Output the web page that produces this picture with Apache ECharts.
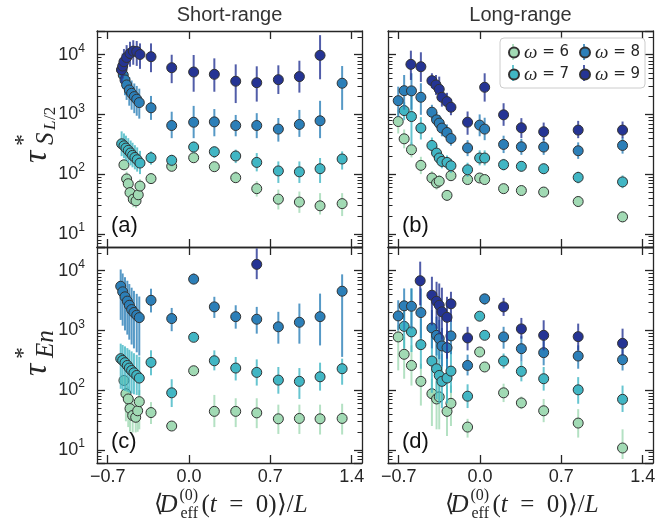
<!DOCTYPE html>
<html><head><meta charset="utf-8">
<script src="https://cdn.jsdelivr.net/npm/echarts@6/dist/echarts.min.js"></script>
<style>html,body{margin:0;padding:0;background:#fff}#c{width:669px;height:524px}</style>
</head><body><div id="c"></div>
<script>
// ---------- data ----------
const xTicks = [-0.7, 0.0, 0.7, 1.4];
const yMinorTicks = [7, 8, 9, 20, 30, 40, 50, 60, 70, 80, 90, 200, 300, 400, 500, 600, 700, 800, 900,
  2000, 3000, 4000, 5000, 6000, 7000, 8000, 9000, 20000];
const omegaNames = ['ω = 6', 'ω = 7', 'ω = 8', 'ω = 9'];
const colors = ['#a1dab4', '#41b6c4', '#2c7fb8', '#253494'];
const panelTitles = ['Short-range', 'Long-range'];
const panelTags = ['(a)', '(b)', '(c)', '(d)'];
// each point: [x, value, errLow, errHigh]
// (a) short-range, tau_S
const a6 = [[-0.560,143,120,170],[-0.537,83,60,110],[-0.523,69,50,92],[-0.508,49,36,66],[-0.480,38,28,52],[-0.456,35.6,27,48],[-0.437,45,34,60],[-0.422,63,48,82],
  [-0.327,84,74,96],[-0.149,135,122,150],[0.040,188,172,206],[0.218,133,120,148],[0.402,87,71,111],[0.583,57,42,76],[0.769,38,25.5,55],[0.950,34,22.4,51],[1.128,29.4,21,48],[1.318,32,19.8,48]];
const a7 = [[-0.580,322,200,520],[-0.560,298,185,480],[-0.543,273,170,440],[-0.523,250,155,400],[-0.503,226,140,365],[-0.486,206,130,335],[-0.466,190,120,305],[-0.446,174,110,280],[-0.422,153,100,245],
  [-0.327,188,144,240],[-0.149,170,135,211],[0.040,284,226,352],[0.218,237,186,290],[0.402,201,153,257],[0.583,157,111,225],[0.769,113,71,163],[0.950,109,71,163],[1.128,123,71,186],[1.318,179,119,240]];
const a8 = [[-0.580,5550,3300,8500],[-0.566,4580,2700,7200],[-0.551,3780,2100,6000],[-0.537,3120,1750,5000],[-0.514,2570,1400,4200],[-0.494,2260,1200,3700],[-0.471,1990,1050,3300],[-0.450,1800,950,3000],[-0.428,1580,850,2700],
  [-0.327,1290,810,2040],[-0.149,652,400,1110],[0.040,740,400,1390],[0.218,750,430,1230],[0.402,652,430,980],[0.583,652,400,1050],[0.769,568,350,870],[0.950,680,420,1190],[1.128,782,400,1690],[1.318,3330,1190,6470]];
const a9 = [[-0.580,5600,3400,9000],[-0.571,6470,4000,10500],[-0.560,7640,4600,12500],[-0.537,9000,5400,14500],[-0.508,10500,6300,16500],[-0.480,11500,6800,17500],[-0.450,11300,6500,17000],[-0.422,10100,5800,15500],
  [-0.327,9270,5100,15500],[-0.149,6060,3340,10000],[0.040,5140,2400,9900],[0.218,4700,2400,8700],[0.402,3600,1550,6900],[0.583,3400,1640,6400],[0.769,3820,2200,6650],[0.950,4300,2320,7940],[1.128,9770,3880,21300]];
// (b) long-range, tau_S
const b6 = [[-0.704,760,480,1200],[-0.653,390,270,560],[-0.590,256,190,340],[-0.509,140,100,195],[-0.414,86,65,112],[-0.374,71,55,92],[-0.351,76,60,96],[-0.284,44,36,54],[-0.250,94,80,110],
  [-0.107,81,70,94],[-0.003,86,76,97],[0.040,81,72,92],[0.203,57,48,68],[0.356,53,45,62],[0.548,50,43,58],[0.845,34.7,28,43],[1.227,19.2,15.5,24]];
const b7 = [[-0.653,1160,800,1600],[-0.590,921,310,2570],[-0.509,590,380,900],[-0.414,302,220,410],[-0.374,225,170,300],[-0.351,186,140,245],[-0.328,163,125,215],[-0.284,157,120,205],[-0.250,138,105,180],
  [-0.107,118,90,155],[-0.003,186,140,250],[0.040,186,140,250],[0.203,144,115,180],[0.356,135,110,165],[0.548,123,100,150],[0.845,88,70,110],[1.227,74,58,95]];
const b8 = [[-0.704,1700,920,2920],[-0.653,2500,1200,4580],[-0.590,2480,1200,4900],[-0.509,1940,984,3330],[-0.414,1090,811,1450],[-0.374,811,600,1100],[-0.351,715,520,980],[-0.328,590,430,800],[-0.284,498,370,680],[-0.250,395,300,520],
  [-0.107,274,200,370],[-0.003,662,430,1000],[0.040,568,370,880],[0.203,314,225,440],[0.356,287,210,390],[0.548,284,210,385],[0.845,246,180,340],[1.227,302,220,410]];
const b9 = [[-0.595,6900,3780,11700],[-0.509,6300,3500,11000],[-0.414,3680,2750,4890],[-0.379,3120,2120,4580],[-0.351,2640,1870,4300],[-0.328,1940,1350,3120],[-0.284,1640,1200,2300],[-0.250,1320,970,1800],
  [-0.107,741,456,1120],[0.040,2850,1640,4890],[0.203,984,644,1540],[0.356,597,402,866],[0.548,512,370,730],[0.845,546,400,780],[1.227,546,400,760]];
// (c) short-range, tau_En
const c6 = [[-0.560,145,125,165],[-0.543,87,30,125],[-0.523,71,24,115],[-0.508,49,20,95],[-0.485,37.5,19.5,75],[-0.459,35,19.5,65],[-0.442,45,20,75],[-0.428,64,22,100],
  [-0.327,42,27,63],[-0.149,25,22,28.5],[0.040,211,190,235],[0.218,44,24,83],[0.402,44,24,73],[0.583,41.5,23,73],[0.769,33,18.4,57],[0.950,33.5,18.4,57],[1.128,33,18,57],[1.318,33.5,18,59]];
const c7 = [[-0.588,336,105,600],[-0.571,314,100,570],[-0.551,288,97,540],[-0.531,259,94,505],[-0.514,234,91,475],[-0.494,213,88,445],[-0.474,195,85,415],[-0.450,176,83,390],[-0.428,159,81,363],
  [-0.327,291,177,464],[-0.149,90,52,152],[0.040,766,680,860],[0.218,310,214,463],[0.402,234,145,359],[0.583,198,119,327],[0.769,147,87,244],[0.950,140,71,234],[1.128,167,98,288],[1.318,228,123,336]];
const c8 = [[-0.588,5500,1500,10500],[-0.571,4440,1200,9000],[-0.551,3660,1000,7800],[-0.531,3100,850,6800],[-0.514,2640,700,6000],[-0.494,2240,580,5200],[-0.474,2000,500,4600],[-0.450,1800,430,4100],[-0.428,1640,380,3700],
  [-0.327,3200,2000,5000],[-0.149,1580,970,2380],[0.040,7230,6100,9000],[0.218,2480,1620,3660],[0.402,1700,1070,2640],[0.583,1540,883,2480],[0.769,1150,600,2050],[0.950,1370,600,2820],[1.128,1700,560,4140],[1.318,4540,360,8700]];
const c9 = [[0.583,12800,7230,23700]];
// (d) long-range, tau_En
const d6 = [[-0.704,778,214,1220],[-0.653,398,155,778],[-0.590,259,119,562],[-0.509,140,55,277],[-0.414,87,25,155],[-0.374,71,22,140],[-0.351,77,22,150],[-0.284,44,17,119],[-0.250,60,25,120],
  [-0.107,24,16,33],[-0.003,435,390,480],[0.040,244,220,270],[0.203,90,63,128],[0.356,61,48,78],[0.548,45,29,71],[0.845,28,16,48],[1.227,10.7,7,22]];
const d7 = [[-0.653,1170,494,3200],[-0.590,945,435,5050],[-0.509,577,228,1580],[-0.414,307,90,900],[-0.374,228,70,700],[-0.351,176,60,500],[-0.328,140,50,400],[-0.284,159,60,420],[-0.250,208,90,480],
  [-0.107,79,50,125],[-0.003,1730,1550,1930],[0.040,828,700,980],[0.203,307,230,410],[0.356,206,140,300],[0.548,155,98,244],[0.845,101,59,165],[1.227,70,43,119]];
const d8 = [[-0.704,1750,1000,3200],[-0.653,2580,1000,5050],[-0.590,2540,1050,5050],[-0.509,1990,728,5050],[-0.414,1100,500,2200],[-0.374,828,380,1700],[-0.351,728,330,1500],[-0.328,550,250,1100],[-0.284,514,230,1000],[-0.250,809,400,1500],
  [-0.107,259,176,392],[0.040,3380,2700,4100],[0.203,778,494,1150],[0.356,494,300,800],[0.548,424,260,700],[0.845,372,228,562],[1.227,323,213,494]];
const d9 = [[-0.515,6800,2640,14200],[-0.414,3890,1220,7930],[-0.374,3080,1070,6530],[-0.351,2640,883,6120],[-0.328,2050,700,5200],[-0.284,1660,336,3660],[-0.250,2790,1390,4440],
  [-0.107,748,463,1150],[0.203,2480,1750,3510],[0.356,1060,728,1620],[0.548,828,463,1480],[0.845,787,463,1300],[1.227,607,382,1070]];

const panels = [[a6, a7, a8, a9], [b6, b7, b8, b9], [c6, c7, c8, c9], [d6, d7, d8, d9]];

// ---------- layout / style ----------
const frame = '#262626';
const grids = [
  { left: 97, top: 31, width: 265, height: 216 },
  { left: 388, top: 31, width: 265, height: 216 },
  { left: 97, top: 247, width: 265, height: 216 },
  { left: 388, top: 247, width: 265, height: 216 }
];
const sans = 'Liberation Sans, Arial, sans-serif';
const serif = 'Liberation Serif, Times New Roman, serif';

function fmtX(v) {
  const s = Math.abs(v).toFixed(1);
  return (v < -1e-9 ? '\u2212' : '') + s;
}
function fmtY(v) {
  const l = Math.log10(v);
  const r = Math.round(l);
  if (Math.abs(l - r) > 1e-6) return '';
  return '{b|10}{s|' + r + '}';
}
const xAxes = [], yAxes = [];
grids.forEach((g, gi) => {
  ['bottom', 'top'].forEach(pos => {
    xAxes.push({
      type: 'value', gridIndex: gi, position: pos, min: -0.792, max: 1.489,
      axisLine: { show: true, onZero: false, lineStyle: { color: frame, width: 1.3 } },
      axisTick: { show: true, inside: true, length: 8, lineStyle: { color: frame, width: 1.3 }, customValues: xTicks },
      axisLabel: { show: pos === 'bottom' && gi >= 2, customValues: xTicks, formatter: fmtX, fontSize: 18, color: '#262626', fontFamily: sans, margin: 5 },
      splitLine: { show: false }
    });
  });
  ['left', 'right'].forEach(pos => {
    yAxes.push({
      type: 'log', logBase: 10, gridIndex: gi, position: pos, min: 6, max: 25000,
      axisLine: { show: true, onZero: false, lineStyle: { color: frame, width: 1.3 } },
      axisTick: { show: true, inside: true, length: 8, lineStyle: { color: frame, width: 1.3 } },
      minorTick: { show: false },
      axisLabel: {
        show: pos === 'left' && (gi === 0 || gi === 2), formatter: fmtY, margin: 12,
        rich: {
          b: { fontSize: 18, fontFamily: sans, color: '#262626', lineHeight: 24 },
          s: { fontSize: 12, fontFamily: sans, color: '#262626', verticalAlign: 'top', lineHeight: 10 }
        }
      },
      splitLine: { show: false }, minorSplitLine: { show: false }
    });
  });
});

const series = [];
panels.forEach((sets, gi) => {
  // minor ticks of the log axis on both vertical edges
  series.push({
    type: 'custom', name: 'minor' + gi, xAxisIndex: 2 * gi, yAxisIndex: 2 * gi,
    data: yMinorTicks.map(v => [0, v]), encode: { x: 0, y: 1 }, silent: true, z: 30, clip: false,
    renderItem: (params, api) => {
      const cs = params.coordSys;
      const y = Math.round(api.coord([0, api.value(1)])[1]) + 0.5;
      const st = { stroke: frame, lineWidth: 1 };
      return { type: 'group', children: [
        { type: 'line', shape: { x1: cs.x, y1: y, x2: cs.x + 4.5, y2: y }, style: st },
        { type: 'line', shape: { x1: cs.x + cs.width - 4.5, y1: y, x2: cs.x + cs.width, y2: y }, style: st }
      ] };
    }
  });
  sets.forEach((arr, k) => {
    const col = colors[k];
    series.push({
      type: 'custom', name: 'err' + gi + k, xAxisIndex: 2 * gi, yAxisIndex: 2 * gi,
      data: arr.map(p => [p[0], p[2], p[3]]),
      encode: { x: 0, y: [1, 2] }, silent: true, z: 3 + 2 * k,
      renderItem: (params, api) => {
        const x = api.value(0);
        const p1 = api.coord([x, api.value(1)]);
        const p2 = api.coord([x, api.value(2)]);
        return { type: 'line', shape: { x1: p1[0], y1: p1[1], x2: p2[0], y2: p2[1] },
          style: { stroke: col, lineWidth: 2, opacity: 0.8 } };
      }
    });
    series.push({
      type: 'scatter', name: omegaNames[k], xAxisIndex: 2 * gi, yAxisIndex: 2 * gi,
      data: arr.map(p => [p[0], p[1]]), symbol: 'circle', symbolSize: 10, z: 4 + 2 * k,
      itemStyle: { color: col, borderColor: '#333', borderWidth: 1, opacity: 1 },
      emphasis: { disabled: true }, silent: true
    });
  });
});

const legRich = {
  w: { fontFamily: serif, fontStyle: 'italic', fontSize: 19, color: '#262626' },
  n: { fontFamily: 'DejaVu Sans, sans-serif', fontSize: 15, color: '#262626' }
};
function legFmt(name) { return '{w|ω}{n|' + name.slice(1) + '}'; }
const legBase = { orient: 'vertical', top: 43, itemWidth: 10, itemHeight: 10, itemGap: 3, icon: 'circle',
  formatter: legFmt, textStyle: { rich: legRich, lineHeight: 18 }, z: 50, selectedMode: false, padding: 0 };

function txt(t, x, y, font, al, rich) {
  const st = { text: t, font: font, fill: '#262626', align: al || 'left', textAlign: al || 'left', verticalAlign: 'middle', textVerticalAlign: 'middle' };
  if (rich) st.rich = rich;
  return { type: 'text', x: x, y: y, style: st };
}
function yTitle(cx, cy, parts) {
  return { type: 'group', x: cx, y: cy, rotation: Math.PI / 2, z: 60,
    children: parts.map(p => txt(p[0], p[1], p[2], p[3], 'left')) };
}
const xRich = {
  n: { fontFamily: serif, fontSize: 25, color: '#262626' },
  i: { fontFamily: serif, fontSize: 25, fontStyle: 'italic', color: '#262626' }
};
function xTitle(cx, cy) {
  return { type: 'group', x: cx, y: cy, z: 60, children: [
    txt('\u27E8', -67, 0, '24px ' + serif, 'right'),
    txt('D', -52, 0, 'italic 25px ' + serif, 'right'),
    txt('(0)', -50, -9, '16px ' + serif, 'left'),
    txt('eff', -49, 9, '16px ' + serif, 'left'),
    txt('{n|(}{i|t}{n|\u2002=\u20020)\u27E9/}{i|L}', -28, 0, '25px ' + serif, 'left', xRich)
  ] };
}

const graphics = [
  { type: 'rect', shape: { x: 500, y: 38, width: 145, height: 50, r: 4 }, z: 40,
    style: { fill: 'rgba(255,255,255,0.85)', stroke: '#cccccc', lineWidth: 1 } }
];
// error-bar strokes behind the legend markers
[[513, 52, 0], [513, 73, 1], [584, 52, 2], [584, 73, 3]].forEach(p => {
  graphics.push({ type: 'line', z: 45, shape: { x1: p[0], y1: p[1] - 8, x2: p[0], y2: p[1] + 8 },
    style: { stroke: colors[p[2]], lineWidth: 2, opacity: 0.8 } });
});
panelTitles.forEach((t, i) => {
  const g = txt(t, grids[i].left + grids[i].width / 2, 15, '20px ' + sans, 'center');
  g.style.fill = '#333'; g.z = 60;
  graphics.push(g);
});
panelTags.forEach((t, i) => {
  const g = txt(t, grids[i].left + 14, grids[i].top + grids[i].height - 21, '22px ' + sans, 'left');
  g.style.fill = '#111'; g.z = 60;
  graphics.push(g);
});
graphics.push(yTitle(37, 127, [
  ['τ', -36, 0, 'italic 34px ' + serif],
  ['*', -19, -13, '24px ' + serif],
  ['S', -18, 9, 'italic 25px ' + serif],
  ['L', -3, 14, 'italic 17px ' + serif],
  ['/2', 7, 14, '17px ' + serif]
]));
graphics.push(yTitle(37, 347, [
  ['τ', -29, 0, 'italic 34px ' + serif],
  ['*', -12, -13, '24px ' + serif],
  ['En', -11, 9, 'italic 25px ' + serif]
]));
graphics.push(xTitle(229.5, 505));
graphics.push(xTitle(520.5, 505));

const chart = echarts.init(document.getElementById('c'), null, { renderer: 'canvas' });
chart.setOption({
  animation: false,
  backgroundColor: '#fff',
  grid: grids,
  xAxis: xAxes,
  yAxis: yAxes,
  legend: [
    Object.assign({}, legBase, { left: 508, data: ['ω = 6', 'ω = 7'] }),
    Object.assign({}, legBase, { left: 579, data: ['ω = 8', 'ω = 9'] })
  ],
  graphic: graphics,
  series: series
});
</script></body></html>
